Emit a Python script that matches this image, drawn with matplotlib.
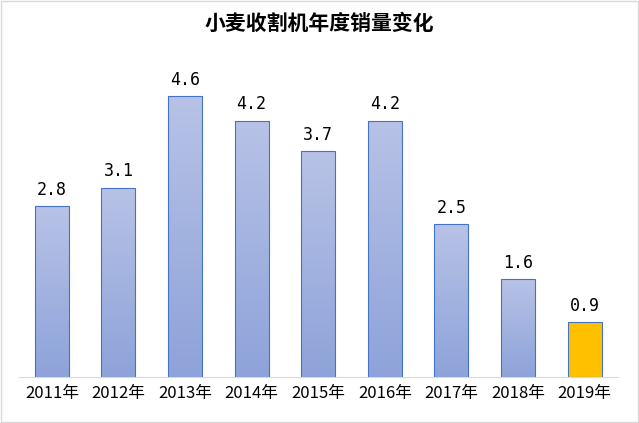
import numpy as np
import matplotlib.pyplot as plt
from matplotlib.colors import LinearSegmentedColormap

years = ["2011年", "2012年", "2013年", "2014年", "2015年", "2016年", "2017年", "2018年", "2019年"]
sales = [2.8, 3.1, 4.6, 4.2, 3.7, 4.2, 2.5, 1.6, 0.9]

plt.rcParams['font.family'] = ['Noto Sans CJK SC', 'DejaVu Sans']

fig = plt.figure(figsize=(6.39, 4.23), dpi=100)
ax = fig.add_axes([0.029, 0.109, 0.938, 0.75])
x = np.arange(len(years))
w = 0.51
cmap = LinearSegmentedColormap.from_list("g", ["#8ea3da", "#b7c2e6"])
grad = np.linspace(0, 1, 100).reshape(-1, 1)
for i, v in enumerate(sales):
    if i == len(sales) - 1:
        ax.bar(x[i], v, w, color="#ffc000", edgecolor="#4472c4", linewidth=0.8, zorder=2)
    else:
        b = ax.bar(x[i], v, w, color="none", edgecolor="#4472c4", linewidth=0.8, zorder=3)[0]
        im = ax.imshow(grad, cmap=cmap, aspect="auto", origin="lower",
                       extent=[x[i] - w / 2, x[i] + w / 2, 0, v], zorder=2)
        im.set_clip_path(b)
    ax.text(x[i], v + 0.12, f"{v}", ha="center", va="bottom", fontsize=12, family="DejaVu Sans Mono")

ax.set_xlim(-0.5, len(years) - 0.5)
ax.set_ylim(0, 5.2)
ax.set_xticks(x)
ax.set_xticklabels(years, fontsize=12)
ax.tick_params(axis="x", length=0, pad=6)
ax.set_yticks([])
for s in ["top", "left", "right"]:
    ax.spines[s].set_visible(False)
ax.spines["bottom"].set_color("#d9d9d9")
fig.text(0.5, 0.945, "小麦收割机年度销量变化", ha="center", va="center", fontsize=15, fontweight="bold")
fig.patches.append(plt.Rectangle((0.002, 0.002), 0.996, 0.996, transform=fig.transFigure,
                                 fill=False, edgecolor="#d9d9d9", linewidth=1))
fig.savefig("out.png", dpi=100)
